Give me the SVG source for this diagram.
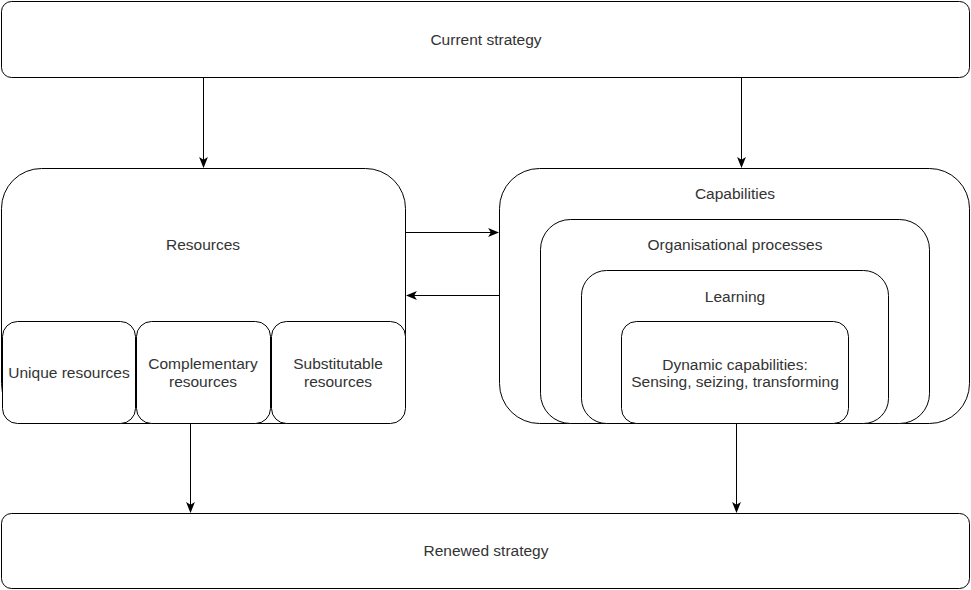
<svg xmlns="http://www.w3.org/2000/svg" width="971" height="590" viewBox="0 0 971 590">
<style>
.n{fill:#fff;stroke:#000;stroke-width:1}
.t{font-family:"Liberation Sans",Arial,sans-serif;font-size:15.5px;fill:#333;text-anchor:middle;dominant-baseline:central}
.c{stroke:#000;stroke-width:1;fill:none;marker-end:url(#a)}
</style>
<defs>
<marker id="a" viewBox="0 0 10 10" refX="9" refY="5" markerWidth="11" markerHeight="11" markerUnits="userSpaceOnUse" orient="auto">
<path d="M0,1 L10,5 L0,9 L2.5,5 Z" fill="#000"/>
</marker>
</defs>
<rect width="971" height="590" fill="#fff"/>
<g id="current"><rect class="n" x="1.5" y="1.5" width="968" height="76" rx="10"/><text class="t" x="486" y="39">Current strategy</text></g>
<g id="resources"><rect class="n" x="1.5" y="168.5" width="404" height="255" rx="40"/><text class="t" x="203" y="244">Resources</text></g>
<g id="unique"><rect class="n" x="2.5" y="321.5" width="133" height="102" rx="15"/><text class="t" x="69" y="372">Unique resources</text></g>
<g id="complementary"><rect class="n" x="136.5" y="321.5" width="134" height="102" rx="15"/><text class="t" x="203" y="363">Complementary</text><text class="t" x="203" y="381">resources</text></g>
<g id="substitutable"><rect class="n" x="271.5" y="321.5" width="134" height="102" rx="15"/><text class="t" x="338" y="363">Substitutable</text><text class="t" x="338" y="381">resources</text></g>
<g id="capabilities"><rect class="n" x="499.5" y="168.5" width="470" height="255" rx="40"/><text class="t" x="735" y="193">Capabilities</text></g>
<g id="orgproc"><rect class="n" x="540.5" y="219.5" width="389" height="204" rx="30"/><text class="t" x="735" y="244">Organisational processes</text></g>
<g id="learning"><rect class="n" x="581.5" y="270.5" width="307" height="153" rx="25"/><text class="t" x="735" y="296">Learning</text></g>
<g id="dynamic"><rect class="n" x="621.5" y="321.5" width="227" height="102" rx="15"/><text class="t" x="735" y="364">Dynamic capabilities:</text><text class="t" x="735" y="381">Sensing, seizing, transforming</text></g>
<g id="renewed"><rect class="n" x="1.5" y="513.5" width="968" height="75" rx="10"/><text class="t" x="486" y="550">Renewed strategy</text></g>
<g id="connectors">
<path class="c" d="M203.5,78 V167"/>
<path class="c" d="M741.5,78 V167"/>
<path class="c" d="M406,232.5 H498"/>
<path class="c" d="M499,295.5 H407"/>
<path class="c" d="M190.5,424 V512"/>
<path class="c" d="M736.5,424 V512"/>
</g>
</svg>
